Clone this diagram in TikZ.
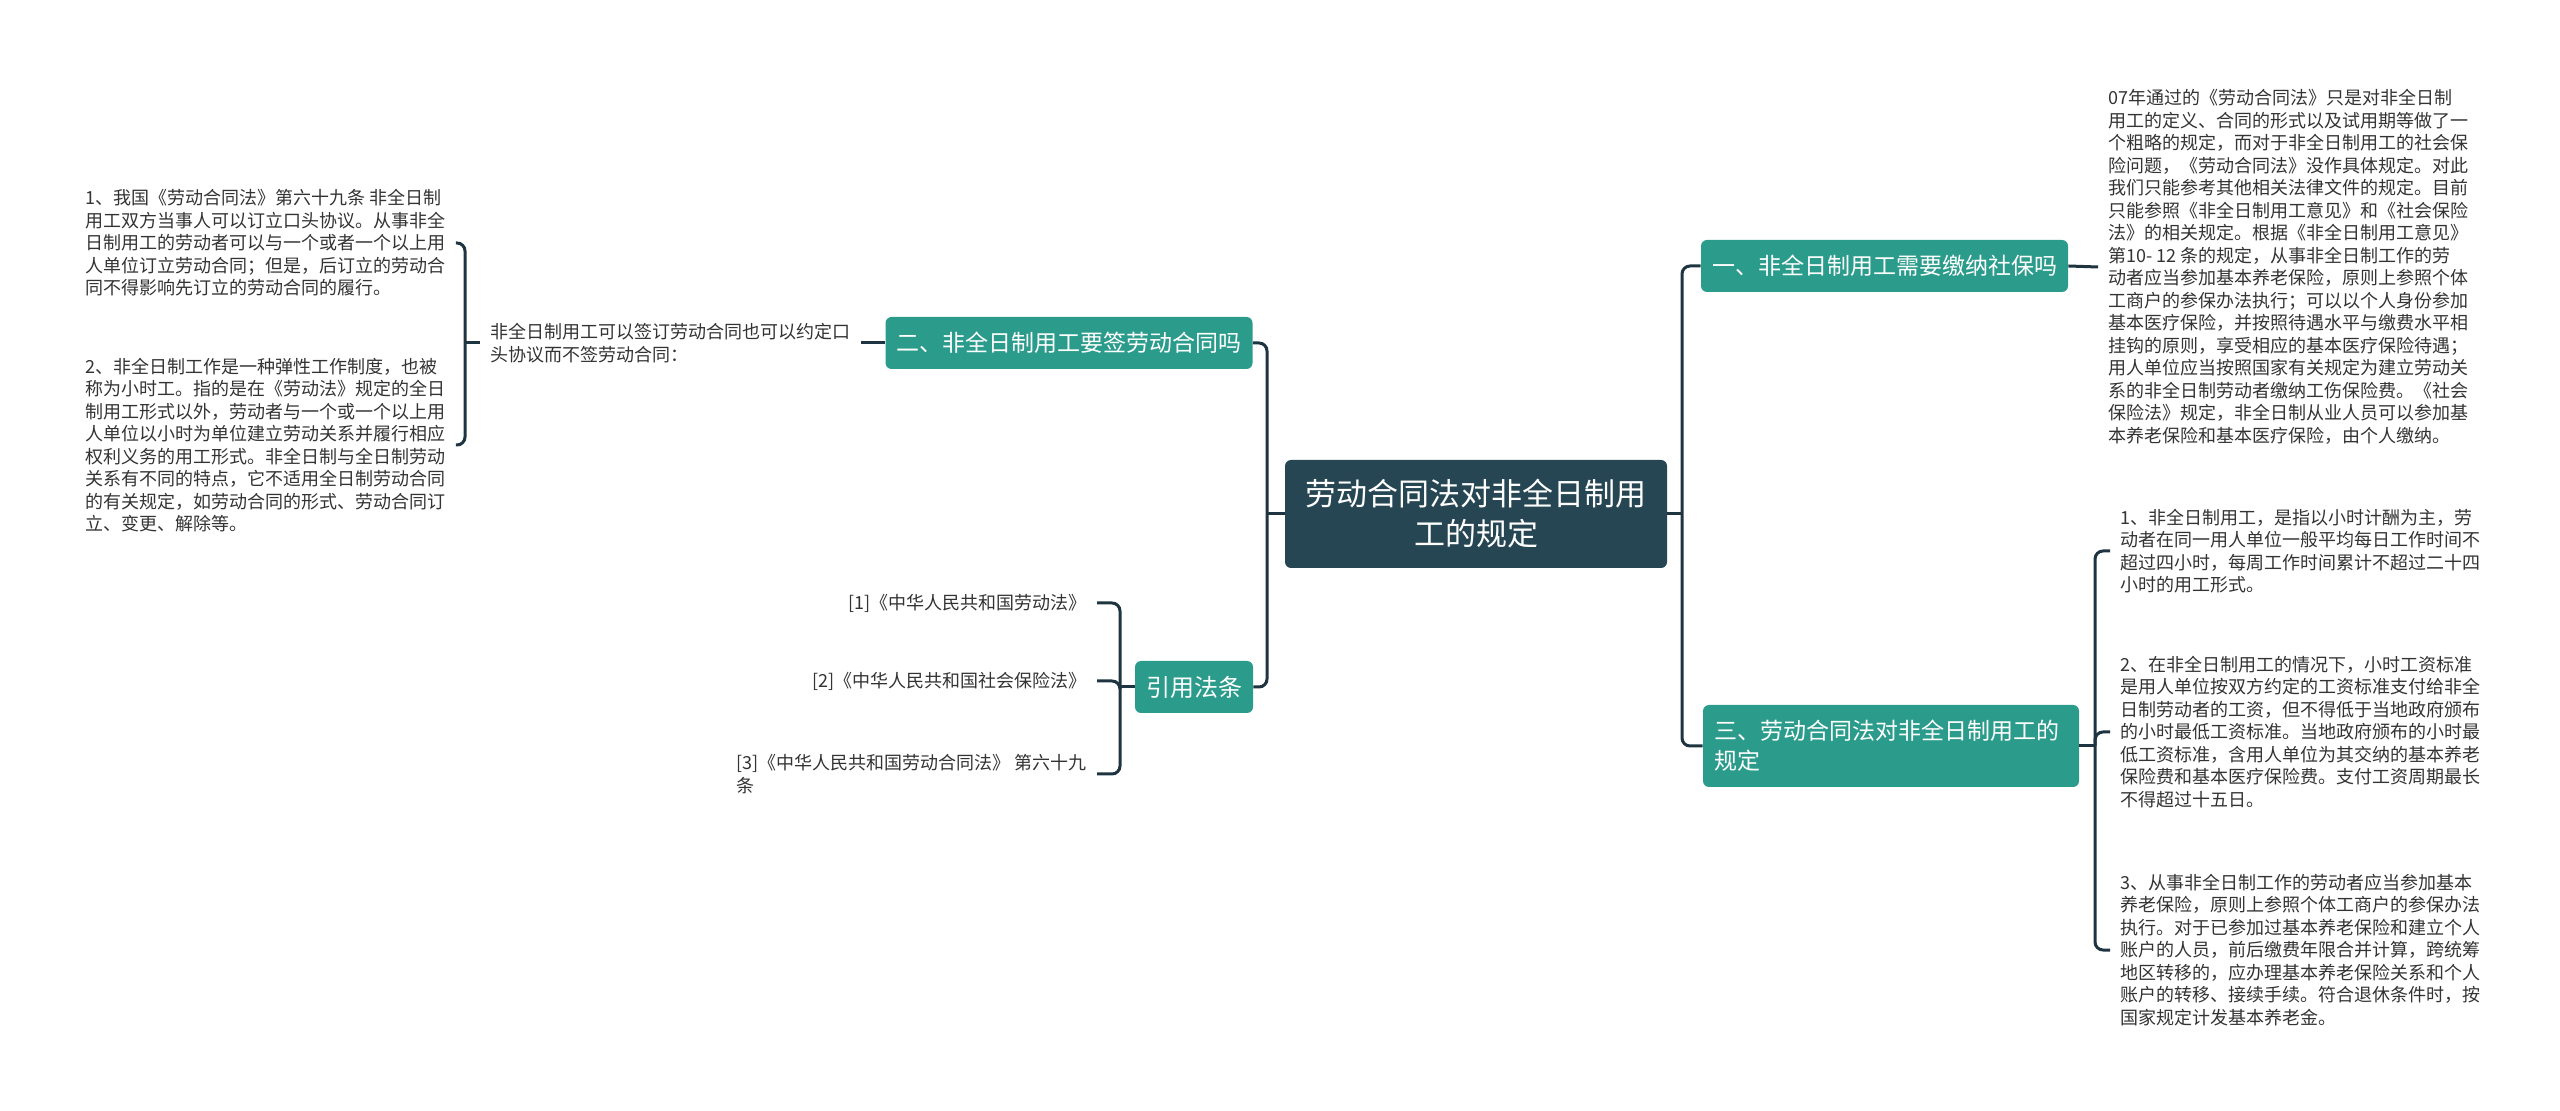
\documentclass[tikz,border=0pt]{standalone}
\usepackage{fontspec}
\setmainfont{Noto Sans CJK SC}
\usetikzlibrary{positioning}
\definecolor{rootbg}{HTML}{264653}
\definecolor{topicbg}{HTML}{2B9C8B}
\definecolor{linkc}{HTML}{1E3440}
\definecolor{notec}{HTML}{333333}

\begin{document}
\begin{tikzpicture}[x=0.5pt, y=-0.5pt,
    root/.style={rectangle, fill=rootbg, text=white, rounded corners=3pt,
                 font=\fontsize{15.5}{20}\selectfont, align=center,
                 minimum width=191pt, minimum height=54pt},
    topic/.style={rectangle, fill=topicbg, text=white, rounded corners=3pt,
                  font=\fontsize{11.5}{15}\selectfont, inner xsep=5.5pt,
                  inner ysep=0pt, minimum height=26pt},
    note/.style={font=\fontsize{9}{11.25}\selectfont, text=notec,
                 align=left, inner sep=5pt},
    link/.style={draw=linkc, line width=1.5pt, rounded corners=4pt}
]
    \useasboundingbox (0,0) rectangle (2560,1111);

    \node[root] (root) at (1476,514) {劳动合同法对非全日制用\\工的规定};
    \node[topic] (sec1) at (1884.5,266) {一、非全日制用工需要缴纳社保吗};
    \node[topic, align=left, text width=177pt, minimum height=41pt] (sec3) at (1891,746)
        {三、劳动合同法对非全日制用工的\\规定};
    \node[topic] (sec2) at (1069,343) {二、非全日制用工要签劳动合同吗};
    \node[topic, font=\fontsize{12}{15}\selectfont] (cite) at (1194,687) {引用法条};

    % right branch notes
    \node[note, anchor=west] (info1) at (2098,267) {07年通过的《劳动合同法》只是对非全日制\\
        用工的定义、合同的形式以及试用期等做了一\\
        个粗略的规定，而对于非全日制用工的社会保\\
        险问题，《劳动合同法》没作具体规定。对此\\
        我们只能参考其他相关法律文件的规定。目前\\
        只能参照《非全日制用工意见》和《社会保险\\
        法》的相关规定。根据《非全日制用工意见》\\
        第10- 12 条的规定，从事非全日制工作的劳\\
        动者应当参加基本养老保险，原则上参照个体\\
        工商户的参保办法执行；可以以个人身份参加\\
        基本医疗保险，并按照待遇水平与缴费水平相\\
        挂钩的原则，享受相应的基本医疗保险待遇；\\
        用人单位应当按照国家有关规定为建立劳动关\\
        系的非全日制劳动者缴纳工伤保险费。《社会\\
        保险法》规定，非全日制从业人员可以参加基\\
        本养老保险和基本医疗保险，由个人缴纳。};
    \node[note, anchor=west] (rule1) at (2110,551) {1、非全日制用工，是指以小时计酬为主，劳\\
        动者在同一用人单位一般平均每日工作时间不\\
        超过四小时，每周工作时间累计不超过二十四\\
        小时的用工形式。};
    \node[note, anchor=west] (rule2) at (2110,732) {2、在非全日制用工的情况下，小时工资标准\\
        是用人单位按双方约定的工资标准支付给非全\\
        日制劳动者的工资，但不得低于当地政府颁布\\
        的小时最低工资标准。当地政府颁布的小时最\\
        低工资标准，含用人单位为其交纳的基本养老\\
        保险费和基本医疗保险费。支付工资周期最长\\
        不得超过十五日。};
    \node[note, anchor=west] (rule3) at (2110,950) {3、从事非全日制工作的劳动者应当参加基本\\
        养老保险，原则上参照个体工商户的参保办法\\
        执行。对于已参加过基本养老保险和建立个人\\
        账户的人员，前后缴费年限合并计算，跨统筹\\
        地区转移的，应办理基本养老保险关系和个人\\
        账户的转移、接续手续。符合退休条件时，按\\
        国家规定计发基本养老金。};

    % left branch notes
    \node[note, anchor=west] (claim) at (480,343) {非全日制用工可以签订劳动合同也可以约定口\\
        头协议而不签劳动合同：};
    \node[note, anchor=west] (item1) at (75,243) {1、我国《劳动合同法》第六十九条 非全日制\\
        用工双方当事人可以订立口头协议。从事非全\\
        日制用工的劳动者可以与一个或者一个以上用\\
        人单位订立劳动合同；但是，后订立的劳动合\\
        同不得影响先订立的劳动合同的履行。};
    \node[note, anchor=west] (item2) at (75,445) {2、非全日制工作是一种弹性工作制度，也被\\
        称为小时工。指的是在《劳动法》规定的全日\\
        制用工形式以外，劳动者与一个或一个以上用\\
        人单位以小时为单位建立劳动关系并履行相应\\
        权利义务的用工形式。非全日制与全日制劳动\\
        关系有不同的特点，它不适用全日制劳动合同\\
        的有关规定，如劳动合同的形式、劳动合同订\\
        立、变更、解除等。};
    \node[note, anchor=east] (ref1) at (1097,603) {[1]《中华人民共和国劳动法》};
    \node[note, anchor=east] (ref2) at (1097,681) {[2]《中华人民共和国社会保险法》};
    \node[note, anchor=east] (ref3) at (1097,774) {[3]《中华人民共和国劳动合同法》 第六十九\\条};

    \coordinate (jr) at (1682,514);
    \coordinate (jr3) at (2095,746);
    \coordinate (jl) at (1267,514);
    \coordinate (jc) at (465,343);
    \coordinate (jq) at (1120,687);

    \draw[link] (root.east) -- (jr);
    \draw[link] (sec1.west) -| (jr) |- (sec3.west);
    \draw[link] (sec1.east) -- (info1.west);
    \draw[link] (sec3.east) -- (jr3);
    \draw[link] (rule1.west) -| (jr3) |- (rule3.west);
    \draw[link] (jr3) |- (rule2.west);

    \draw[link] (root.west) -- (jl);
    \draw[link] (sec2.east) -| (jl) |- (cite.east);
    \draw[link] (sec2.west) -- (claim.east);
    \draw[link] (claim.west) -- (jc);
    \draw[link] (item1.east) -| (jc) |- (item2.east);
    \draw[link] (cite.west) -- (jq);
    \draw[link] (ref1.east) -| (jq) |- (ref3.east);
    \draw[link] (jq) |- (ref2.east);
\end{tikzpicture}
\end{document}
